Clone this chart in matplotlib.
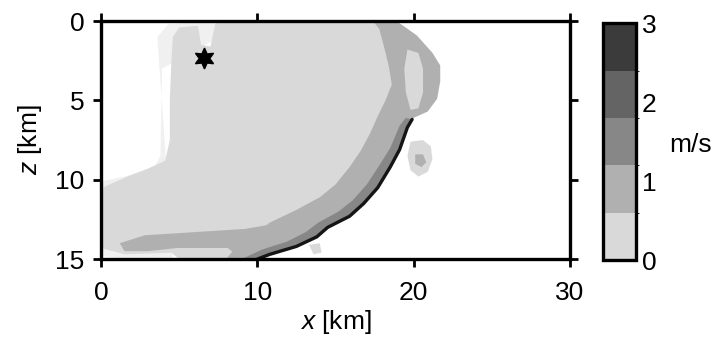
import matplotlib
matplotlib.use("Agg")
import matplotlib.pyplot as plt
from matplotlib.colors import ListedColormap, BoundaryNorm
from matplotlib.cm import ScalarMappable

plt.rcParams['font.family'] = ['Liberation Sans', 'DejaVu Sans']
plt.rcParams['mathtext.fontset'] = 'custom'
plt.rcParams['mathtext.it'] = 'Liberation Sans:italic'
plt.rcParams['mathtext.rm'] = 'Liberation Sans'

# colour levels (m/s)
levels = [0, 0.6, 1.2, 1.8, 2.4, 3.0]
level_colors = ['#d9d9d9', '#b0b0b0', '#878787', '#646464', '#3b3b3b']
cbar_ticks = [0, 1, 2, 3]

x_ticks = [0, 10, 20, 30]
z_ticks = [0, 5, 10, 15]

# source position (km)
source_x = 6.6
source_z = 2.3

# faint fringe of the wavefield
faint_x = [3.6, 4.3, 7.6, 7.6, 3.9, 3.8, 3.4, 1.5, 0.0, 0.0, 1.6, 4.6]
faint_z = [1.0, 0.2, 0.0, 1.0, 3.0, 8.5, 9.2, 9.8, 10.1, 14.8, 15.0, 15.0]

# level 1 region (0 - 0.6 m/s)
light_x = [4.6, 5.0, 6.2, 6.4, 7.0, 7.3, 7.6, 18.0, 18.8, 18.8, 18.0, 16.0,
           12.0, 9.5, 5.0, 4.5, 1.5, 0.0, 0.0, 0.3, 1.7, 3.0, 4.1, 4.4, 4.4, 4.5]
light_z = [1.0, 0.4, 0.3, 1.5, 1.6, 0.2, 0.0, 0.0, 3.0, 5.5, 7.0, 10.5,
           13.5, 15.0, 15.0, 14.6, 14.7, 14.3, 10.6, 10.4, 9.8, 9.3, 8.8, 7.5, 5.0, 2.5]

# level 2 region: ring and band behind the front
ring_x = [17.4, 18.9, 20.2, 21.2, 21.7, 21.7, 21.5, 20.9, 20.0, 19.6, 19.1, 18.5,
          17.7, 16.8, 15.9, 14.5, 13.8, 12.5, 10.8, 10.0, 8.0, 8.6, 10.8, 12.5,
          14.0, 15.0, 15.9, 16.6, 17.2, 17.7, 18.2, 18.6, 18.4, 18.1, 17.8]
ring_z = [0.0, 0.0, 0.9, 2.0, 2.8, 3.8, 4.9, 5.7, 6.1, 6.7, 8.1, 9.2,
          10.5, 11.5, 12.3, 13.0, 13.6, 14.2, 14.7, 15.0, 15.0, 14.3, 12.7, 11.9,
          11.1, 10.3, 9.2, 8.2, 7.1, 6.0, 5.0, 4.0, 2.8, 1.6, 0.5]

# lighter island inside the ring
island_x = [19.6, 20.3, 20.6, 20.6, 20.3, 19.8, 19.5, 19.4]
island_z = [1.8, 2.0, 3.0, 4.5, 5.5, 5.6, 4.5, 3.0]

# level 2 band along the bottom
bottom_x = [1.2, 2.8, 6.0, 9.2, 11.0, 9.0, 8.1, 4.9, 3.0, 1.5]
bottom_z = [14.0, 13.5, 13.3, 13.1, 12.8, 15.0, 14.3, 14.3, 14.5, 14.5]

# front line (outer edge of the wavefront)
front_x = [19.9, 19.6, 19.1, 18.5, 17.7, 16.8, 15.9, 14.5, 13.8, 12.5, 10.8, 10.0]
front_z = [6.2, 6.7, 8.1, 9.2, 10.5, 11.5, 12.3, 13.0, 13.6, 14.2, 14.7, 15.0]
# inner edge of the level 3 band
front_in_x = [19.5, 19.1, 18.5, 17.8, 17.0, 16.1, 15.2, 13.9, 13.1, 11.9, 10.3, 9.0]
front_in_z = [6.1, 6.6, 8.0, 9.1, 10.3, 11.3, 12.0, 12.7, 13.3, 13.9, 14.4, 15.0]

# small blob right of the front
blob_x = [19.8, 20.6, 21.1, 21.2, 20.9, 20.3, 19.8, 19.6]
blob_z = [7.6, 7.5, 7.9, 8.7, 9.5, 9.8, 9.4, 8.5]
blob_core_x = [20.1, 20.6, 20.8, 20.5, 20.1]
blob_core_z = [8.4, 8.4, 8.9, 9.2, 9.0]

# small patch below the front
patch_x = [13.3, 14.0, 14.1, 13.6]
patch_z = [14.1, 14.0, 14.6, 14.7]

fig = plt.figure(figsize=(7.27, 3.40), dpi=100)
ax = fig.add_axes([0.139, 0.238, 0.645, 0.700])

ax.fill(faint_x, faint_z, color='#f0f0f0', lw=0)
ax.fill(light_x, light_z, color=level_colors[0], lw=0)
ax.fill(bottom_x, bottom_z, color=level_colors[1], lw=0)
ax.fill(ring_x, ring_z, color=level_colors[1], lw=0)
ax.fill(island_x, island_z, color=level_colors[0], lw=0)
ax.fill(front_x + front_in_x[::-1], front_z + front_in_z[::-1],
        color=level_colors[2], lw=0)
ax.plot(front_x, front_z, color='#151515', lw=2.4, solid_capstyle='round')
ax.fill(blob_x, blob_z, color=level_colors[0], lw=0)
ax.fill(blob_core_x, blob_core_z, color=level_colors[1], lw=0)
ax.fill(patch_x, patch_z, color=level_colors[0], lw=0)

ax.plot(source_x, source_z, marker=(6, 1, 0), markersize=15, color='black',
        linestyle='none', zorder=5)

ax.set_xlim(0, 30)
ax.set_ylim(15, 0)
ax.set_aspect('auto')
ax.set_xticks(x_ticks)
ax.set_yticks(z_ticks)
for s in ax.spines.values():
    s.set_linewidth(2.4)
ax.tick_params(direction='out', length=6, width=2.0, labelsize=19,
               top=True, right=True)
ax.tick_params(axis='x', pad=10)
ax.tick_params(axis='y', pad=6)
ax.set_xlabel('$x$ [km]', fontsize=19, labelpad=2)
ax.set_ylabel('$z$ [km]', fontsize=19, labelpad=8)

cax = fig.add_axes([0.829, 0.235, 0.046, 0.697])
cmap = ListedColormap(level_colors)
norm = BoundaryNorm(levels, cmap.N)
cb = fig.colorbar(ScalarMappable(norm=norm, cmap=cmap), cax=cax, ticks=cbar_ticks)
cb.outline.set_linewidth(2.4)
cax.tick_params(length=0, labelsize=19, pad=4)
fig.text(0.950, 0.573, 'm/s', fontsize=19, ha='center', va='center')

fig.savefig('out.png', dpi=100)
